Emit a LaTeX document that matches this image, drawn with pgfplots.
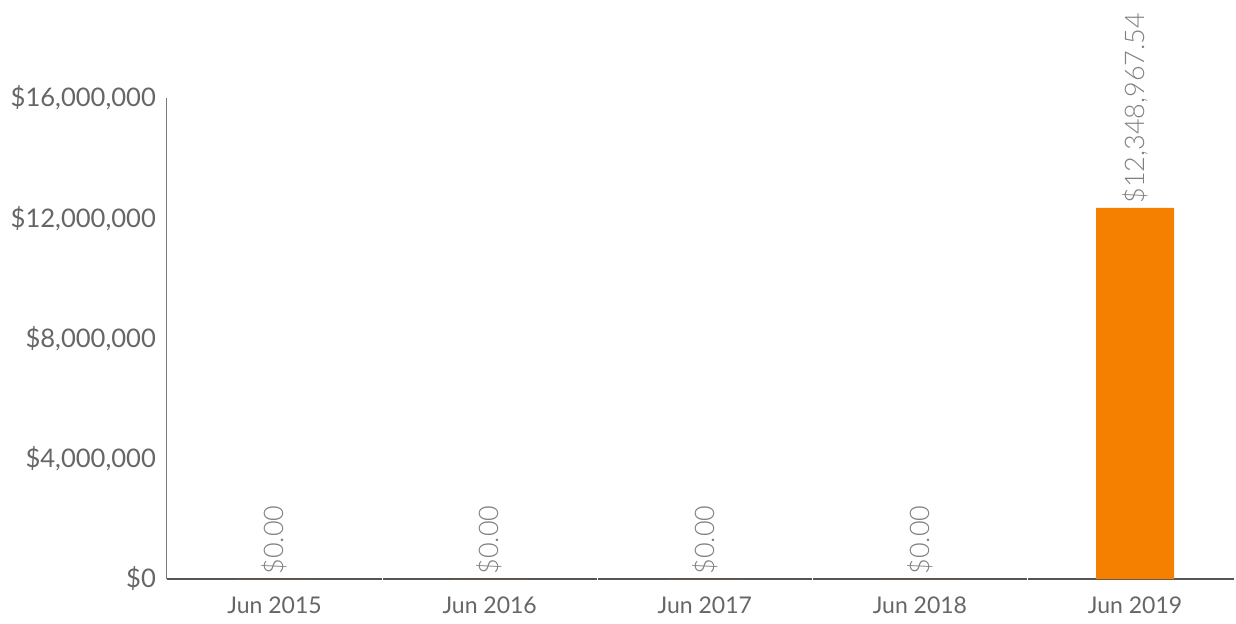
\documentclass[border=0pt]{standalone}
\usepackage{fontspec}
\setmainfont{Lato}
\newfontfamily\lightfont{Lato Light}
\usepackage{pgfplots}
\pgfplotsset{compat=1.18}
\definecolor{barorange}{HTML}{F58000}
\definecolor{ticktext}{HTML}{666666}
\definecolor{labeltext}{HTML}{808080}
\definecolor{xline}{HTML}{555555}
\definecolor{yline}{HTML}{7A7A7A}
\begin{document}
\begin{tikzpicture}
\begin{axis}[
  scale only axis,
  width=533.5pt, height=240.5pt,
  xmin=-0.5, xmax=4.46,
  ymin=0, ymax=16000000,
  axis x line=bottom, axis y line=left,
  x axis line style={-, draw=xline, line width=0.8pt},
  y axis line style={-, draw=yline, line width=0.5pt},
  major tick length=0pt,
  xtick={0,1,2,3,4},
  xticklabels={Jun 2015,Jun 2016,Jun 2017,Jun 2018,Jun 2019},
  ytick={0,4000000,8000000,12000000,16000000},
  yticklabels={{\$0},{\$4,000,000},{\$8,000,000},{\$12,000,000},{\$16,000,000}},
  xticklabel style={font=\fontsize{11.5}{12}\selectfont, text=ticktext, yshift=-5.5pt},
  yticklabel style={font=\fontsize{12.8}{13}\selectfont, text=ticktext, xshift=-2pt},
  scaled y ticks=false,
  extra x ticks={0.5,1.5,2.5,3.5},
  extra x tick labels={},
  extra x tick style={major tick length=3pt, tick align=center, tick style={draw=white, line width=0.6pt}},
  ybar, bar width=39pt,
  clip=false,
  point meta=explicit symbolic,
  nodes near coords,
  nodes near coords style={rotate=90, anchor=west, inner sep=2pt,
    font=\lightfont\fontsize{13.5}{13.5}\selectfont, text=labeltext},
]
\addplot[fill=barorange, draw=none] coordinates {
  (0,0) [\$0.00]
  (1,0) [\$0.00]
  (2,0) [\$0.00]
  (3,0) [\$0.00]
  (4,12348967.54) [\$12,348,967.54]
};
\end{axis}
\pgfresetboundingbox
\path (-83.5pt,-22pt) rectangle (534.5pt,289.5pt);
\end{tikzpicture}
\end{document}
